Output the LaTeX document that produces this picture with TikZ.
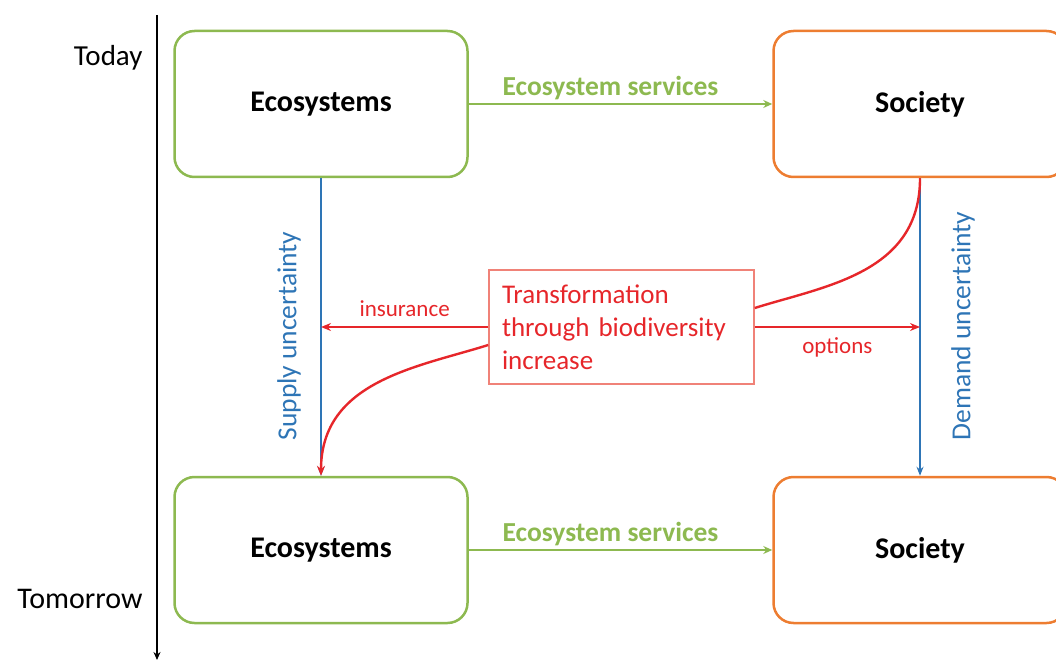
\documentclass[tikz,border=0pt]{standalone}
\usepackage{fontspec}
\setmainfont{Carlito}
\usetikzlibrary{arrows.meta}

\definecolor{ecogreen}{RGB}{141,185,80}
\definecolor{socorange}{RGB}{237,125,49}
\definecolor{uncblue}{RGB}{46,117,182}
\definecolor{transred}{RGB}{230,38,42}
\definecolor{boxred}{RGB}{240,130,120}

\begin{document}
\begin{tikzpicture}[x=1pt, y=-1pt,
	ecobox/.style = {draw = ecogreen, line width = 2.5pt, rounded corners = 20pt, minimum width = 293pt, minimum height = 146pt, font = \fontsize{30}{36}\selectfont\bfseries},
	socbox/.style = {ecobox, draw = socorange},
	serv/.style = {draw = ecogreen, line width = 2pt, -{Stealth[length = 9pt, width = 8pt]}},
	servlbl/.style = {text = ecogreen, font = \fontsize{27.5}{32}\selectfont\bfseries, xshift = -10pt},
	unc/.style = {draw = uncblue, line width = 2pt, -{Stealth[length = 9pt, width = 7pt]}},
	unclbl/.style = {rotate = 90, text = uncblue, font = \fontsize{27.5}{33}\selectfont},
	trans/.style = {draw = transred, line width = 2.4pt},
	translbl/.style = {text = transred, font = \fontsize{23}{27}\selectfont},
	]
	\useasboundingbox (0, 0) rectangle (1056, 660);

	% time axis
	\coordinate (tstart) at (157, 15);
	\coordinate (tend) at (157, 660);
	\draw[line width = 1.6pt, -{Stealth[length = 8pt, width = 7pt]}] (tstart) -- (tend);
	\node[anchor = east, font = \fontsize{29}{35}\selectfont] (today) at (146, 58) {Today};
	\node[anchor = east, font = \fontsize{30}{35}\selectfont] (tomorrow) at (146, 599) {Tomorrow};

	% boxes
	\node[ecobox] (ecoT) at (321, 104) {Ecosystems};
	\node[socbox] (socT) at (920, 104) {Society};
	\node[ecobox] (ecoB) at (321, 550) {Ecosystems};
	\node[socbox] (socB) at (920, 550) {Society};

	\node[draw = boxred, line width = 1.5pt, text = transred, font = \fontsize{27}{33}\selectfont, align = left, text width = 239pt, inner xsep = 13pt, minimum height = 114pt] (trans) at (621.5, 327) {Transformation\\through biodiversity\\increase};

	% ecosystem services
	\draw[serv] (ecoT) -- (socT) node[midway, above = 0pt, servlbl] {Ecosystem services};
	\draw[serv] (ecoB) -- (socB) node[midway, above = 0pt, servlbl] {Ecosystem services};

	% uncertainty
	\draw[unc] (ecoT) -- (ecoB);
	\draw[unc] (socT) -- (socB);
	\node[unclbl] (supply) at (289, 336) {Supply uncertainty};
	\node[unclbl] (demand) at (963, 326) {Demand uncertainty};

	% transformation
	\draw[trans, -{Stealth[length = 10pt, width = 8pt]}] (trans.west) -- (ecoT.south |- trans.west) node[midway, above = 6pt, translbl] {insurance};
	\draw[trans, -{Stealth[length = 10pt, width = 8pt]}] (trans.east) -- (socT.south |- trans.east) node[midway, below = 6pt, translbl] {options};
	\draw[trans, -{Stealth[length = 10pt, width = 8pt]}] ([yshift = -18pt] trans.west) .. controls +(-70, 22) and +(0, -95) .. (ecoB.north);
	\draw[trans] ([yshift = 19pt] trans.east) .. controls +(70, -22) and +(0, 95) .. (socT.south);
\end{tikzpicture}
\end{document}
